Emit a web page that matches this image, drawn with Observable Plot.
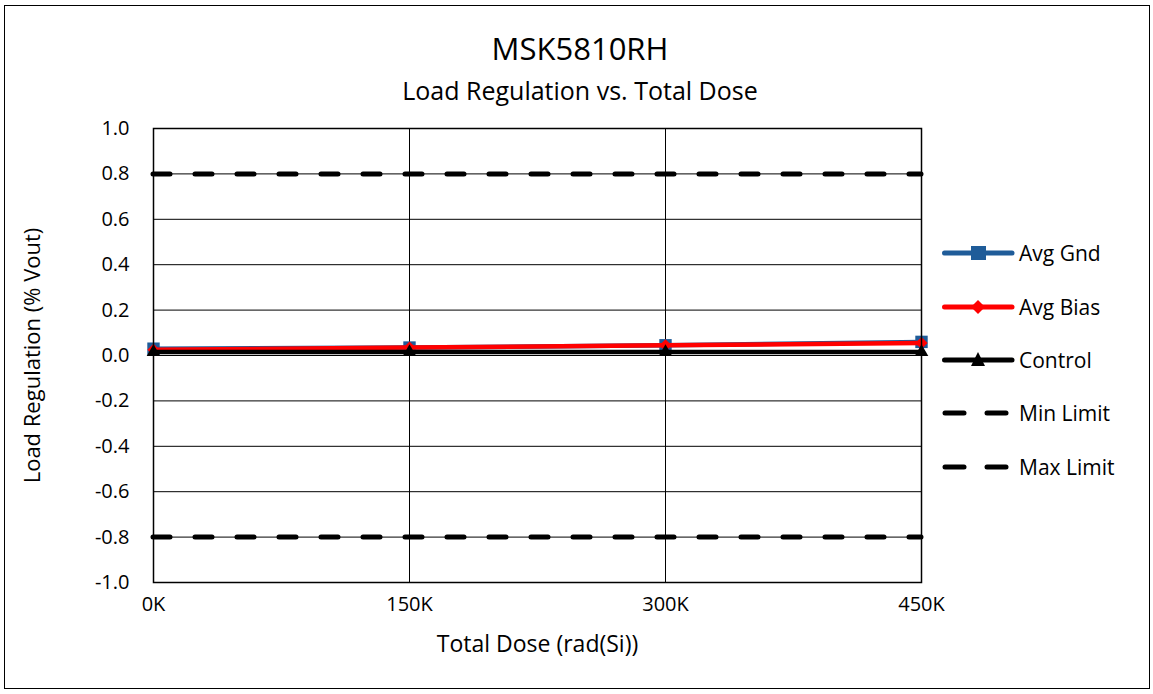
<!DOCTYPE html>
<html>
<head>
<meta charset="utf-8">
<script src="https://cdn.jsdelivr.net/npm/d3@7"></script>
<script src="https://cdn.jsdelivr.net/npm/@observablehq/plot@0.6"></script>
<style>
  body { margin: 0; background: #fff; font-family: "Open Sans", sans-serif; }
  #wrap { position: relative; width: 1153px; height: 694px; }
  #border { position: absolute; left: 4px; top: 5px; width: 1146px; height: 684px; border: 1.5px solid #000; box-sizing: border-box; }
  .t { position: absolute; left: 0; width: 1160px; text-align: center; color: #000; white-space: nowrap; }
  #legend { position: absolute; left: 942px; top: 0; }
  .li { position: absolute; left: 0; height: 24px; width: 200px; }
  .li svg { position: absolute; left: 0; top: 0; }
  .li span { position: absolute; left: 77px; top: 0; font-size: 21px; line-height: 24px; white-space: nowrap; }
  svg.plot { position: absolute; left: 0; top: 0; }
</style>
</head>
<body>
<div id="wrap">
  <div id="border"></div>
</div>
<script>
const doses = [0, 150000, 300000, 450000];
const avgGnd = [0.030, 0.035, 0.045, 0.060];
const avgBias = [0.025, 0.035, 0.045, 0.055];
const control = [0.015, 0.015, 0.015, 0.015];
const minLimit = -0.8;
const maxLimit = 0.8;
const yTicks = [-1.0, -0.8, -0.6, -0.4, -0.2, 0.0, 0.2, 0.4, 0.6, 0.8, 1.0];
const xTicks = [0, 150000, 300000, 450000];
const seriesNames = ["Avg Gnd", "Avg Bias", "Control", "Min Limit", "Max Limit"];
const seriesColors = ["#1F5C99", "#FF0000", "#000000", "#000000", "#000000"];
const titleText = "MSK5810RH";
const subtitleText = "Load Regulation vs. Total Dose";
const xLabel = "Total Dose (rad(Si))";
const yLabel = "Load Regulation (% Vout)";

const rows = (vals, name) => doses.map((d, i) => ({dose: d, value: vals[i], series: name}));
const gnd = rows(avgGnd, "Avg Gnd");
const bias = rows(avgBias, "Avg Bias");
const ctrl = rows(control, "Control");

const chart = Plot.plot({
  width: 1153,
  height: 694,
  marginLeft: 153,
  marginRight: 232,
  marginTop: 128,
  marginBottom: 112,
  style: { fontFamily: "'Open Sans', sans-serif", fontSize: "20px", color: "#000", background: "transparent", overflow: "visible" },
  x: { domain: [0, 450000], ticks: xTicks, tickFormat: d => (d / 1000) + "K" },
  y: { domain: [-1, 1], ticks: yTicks, tickFormat: d => d.toFixed(1) },
  marks: [
    Plot.gridY(yTicks, { stroke: "#000", strokeOpacity: 1, strokeWidth: 1 }),
    Plot.gridX([150000, 300000], { stroke: "#000", strokeOpacity: 1, strokeWidth: 1 }),
    Plot.ruleY([minLimit, maxLimit], { stroke: "#000", strokeWidth: 5, strokeDasharray: "17,25", strokeLinecap: "round" }),
    Plot.line(gnd, { x: "dose", y: "value", stroke: seriesColors[0], strokeWidth: 4.5 }),
    Plot.dot(gnd, { x: "dose", y: "value", symbol: "square", fill: seriesColors[0], r: 7 }),
    Plot.line(bias, { x: "dose", y: "value", stroke: seriesColors[1], strokeWidth: 4.5 }),
    Plot.dot(bias, { x: "dose", y: "value", symbol: "diamond2", fill: seriesColors[1], r: 5.5 }),
    Plot.line(ctrl, { x: "dose", y: "value", stroke: seriesColors[2], strokeWidth: 4.5 }),
    Plot.dot(ctrl, { x: "dose", y: "value", symbol: "triangle2", fill: seriesColors[2], r: 6.5 }),
    Plot.frame({ stroke: "#000", strokeWidth: 1.5 }),
    Plot.axisY({ ticks: yTicks, tickSize: 0, tickPadding: 24, tickFormat: d => d.toFixed(1), label: null, fontSize: 20 }),
    Plot.axisX({ ticks: xTicks, tickSize: 0, tickPadding: 14, tickFormat: d => (d / 1000) + "K", label: null, fontSize: 20 }),
    Plot.text([yLabel], { frameAnchor: "left", dx: -121, rotate: -90, textAnchor: "middle", lineAnchor: "middle", fontSize: 22 }),
    Plot.text([xLabel], { frameAnchor: "bottom", dy: 62, lineAnchor: "middle", fontSize: 23 })
  ]
});
chart.classList.add("plot");
const wrap = document.getElementById("wrap");
wrap.appendChild(chart);

const t1 = document.createElement("div");
t1.className = "t"; t1.textContent = titleText;
t1.style.top = "31px"; t1.style.fontSize = "31px"; t1.style.lineHeight = "34px";
wrap.appendChild(t1);
const t2 = document.createElement("div");
t2.className = "t"; t2.textContent = subtitleText;
t2.style.top = "75px"; t2.style.fontSize = "25px"; t2.style.lineHeight = "30px";
wrap.appendChild(t2);

const legend = document.createElement("div");
legend.id = "legend";
const legendY = [253, 307, 360, 413, 467];
seriesNames.forEach((name, i) => {
  const item = document.createElement("div");
  item.className = "li";
  item.style.top = (legendY[i] - 12) + "px";
  let sw = "";
  const c = seriesColors[i];
  if (i < 3) {
    sw += `<line x1="2.5" y1="12" x2="70" y2="12" stroke="${c}" stroke-width="5" stroke-linecap="round"/>`;
    if (i === 0) sw += `<rect x="29" y="5" width="15" height="14" fill="${c}"/>`;
    if (i === 1) sw += `<path d="M36,5 L43,12 L36,19 L29,12 Z" fill="${c}"/>`;
    if (i === 2) sw += `<path d="M36,4 L43,18 L29,18 Z" fill="${c}"/>`;
  } else {
    sw += `<line x1="3" y1="12" x2="22" y2="12" stroke="${c}" stroke-width="5" stroke-linecap="round"/>`;
    sw += `<line x1="45" y1="12" x2="64" y2="12" stroke="${c}" stroke-width="5" stroke-linecap="round"/>`;
  }
  item.innerHTML = `<svg width="74" height="24">${sw}</svg><span>${name}</span>`;
  legend.appendChild(item);
});
wrap.appendChild(legend);
</script>
</body>
</html>
